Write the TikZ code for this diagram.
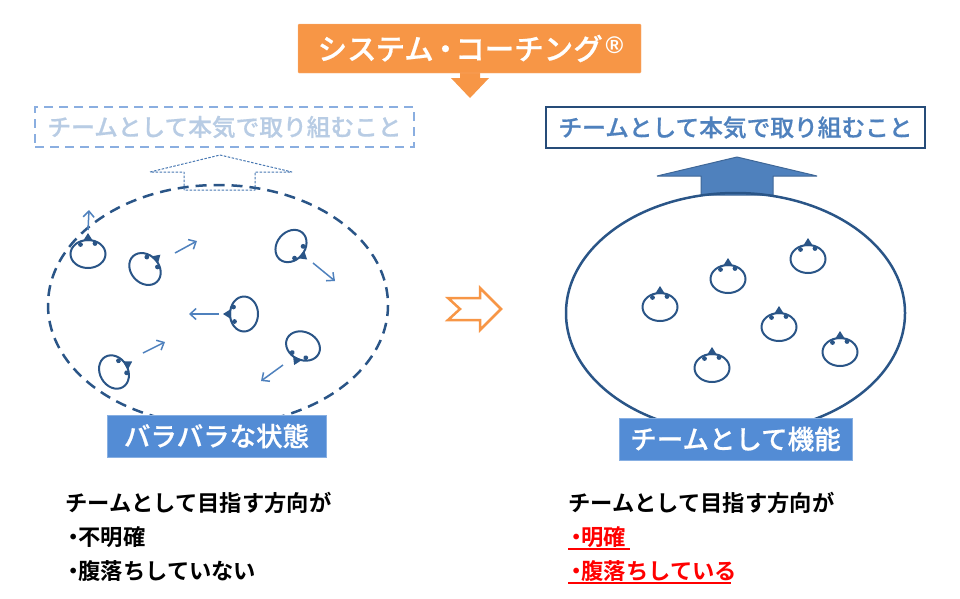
\documentclass[tikz,border=0pt]{standalone}
\usepackage{fontspec}
\setmainfont{Noto Sans CJK JP Bold}
\newfontfamily\heavyfont[FakeBold=0.6]{Noto Sans CJK JP Medium}
\newfontfamily\markfont{Liberation Sans}
\usetikzlibrary{arrows.meta}
\definecolor{navy}{HTML}{2A5587}
\definecolor{midblue}{HTML}{4F81BD}
\definecolor{labelblue}{HTML}{538CD5}
\definecolor{orange}{HTML}{F79646}
\definecolor{paleline}{HTML}{8AAEE0}
\definecolor{paletext}{HTML}{B8CCE4}
\newcommand{\dotmark}{\kern-3pt ・\kern-6pt }
\tikzset{
  chick/.pic={
    \draw[navy,line width=2] (0,0) ellipse (17.5 and 14);
    \fill[navy] (-5,-13) -- (0,-21) -- (5,-13) -- cycle;
    \fill[navy] (-7.5,-9.5) circle (2.4);
    \fill[navy] (7,-10.5) circle (2.4);
  },
  moveline/.style={midblue,line width=1.5,-{Straight Barb[length=6,width=11]}},
  labelbox/.style={fill=labelblue,draw=labelblue!70!white,text=white,font=\heavyfont\fontsize{26.5}{27}\selectfont,inner sep=0pt},
  linetext/.style={anchor=base west,inner sep=0pt,font=\fontsize{22.3}{23}\selectfont},
}
\begin{document}
\begin{tikzpicture}[x=1pt,y=-1pt]
\useasboundingbox (0,0) rectangle (960,598);
% title
\fill[orange] (460,70) -- (480,70) -- (480,78) -- (489,78) -- (470,98) -- (451,78) -- (460,78) -- cycle;
\node (title) [fill=orange,draw=orange!70!white,rounded corners=1,minimum width=343,minimum height=49,text=white,font=\heavyfont\fontsize{29.5}{30}\selectfont,inner sep=0pt] at (469.5,48.5) {\kern2pt シス\kern-1pt テム\kern-3pt ・\kern-5pt コーチング\kern3pt\raisebox{6pt}{\markfont\bfseries\fontsize{24}{24}\selectfont ®}};
% left side
\node (leftgoal) [draw=paleline,dash pattern=on 9pt off 6pt,line width=2.5,minimum width=379,minimum height=40,text=paletext,font=\heavyfont\fontsize{23.7}{24}\selectfont,inner sep=0pt] at (224.5,127) {チームとして本気で取り組むこと};
\draw[navy,line width=2.5,dash pattern=on 11pt off 7pt] (218,305) ellipse (170 and 120);
\draw[midblue!80!navy,line width=1,line join=bevel,dash pattern=on 2.5pt off 1.5pt] (184,190) -- (184,172) -- (150,172) -- (220,155) -- (292,172) -- (255,172) -- (255,190) -- cycle;
\pic at (88,254) {chick};
\pic[rotate=-47] at (145,269) {chick};
\pic[rotate=-130] at (291,246) {chick};
\pic[rotate=90] at (244,314) {chick};
\pic[rotate=155] at (303,346) {chick};
\pic[rotate=-60] at (114,372) {chick};
\coordinate (moveAs) at (88,230);
\coordinate (moveAe) at (89,210);
\coordinate (moveBs) at (175,253);
\coordinate (moveBe) at (197,241);
\coordinate (moveCs) at (313,263);
\coordinate (moveCe) at (335,281);
\coordinate (moveDs) at (219,314);
\coordinate (moveDe) at (189,314);
\coordinate (moveEs) at (283,365);
\coordinate (moveEe) at (261,381);
\coordinate (moveFs) at (143,353);
\coordinate (moveFe) at (165,342);
\draw[moveline] (moveAs) -- (moveAe);
\draw[moveline] (moveBs) -- (moveBe);
\draw[moveline] (moveCs) -- (moveCe);
\draw[moveline] (moveDs) -- (moveDe);
\draw[moveline] (moveEs) -- (moveEe);
\draw[moveline] (moveFs) -- (moveFe);
\node (leftstate) [labelbox,minimum width=219,minimum height=42] at (216.5,436) {バラバラな状態};
% middle arrow
\draw[orange,line width=2.5] (448,298) -- (480,298) -- (480,288) -- (501,309) -- (480,330) -- (480,320) -- (448,320) -- (460,309) -- cycle;
% right side
\node (rightgoal) [draw=navy!90!black,line width=2.5,minimum width=379,minimum height=41,text=midblue,font=\heavyfont\fontsize{23.7}{24}\selectfont,inner sep=0pt] at (735.5,127.5) {チームとして本気で取り組むこと};
\draw[fill=midblue,draw=midblue!80!black,line width=1,line join=bevel] (701,195) -- (701,176) -- (657,176) -- (737,157) -- (817,176) -- (773,176) -- (773,195) -- cycle;
\draw[navy,line width=2.5] (735.5,313) ellipse (169.5 and 120);
\pic at (660,307) {chick};
\pic at (728,279) {chick};
\pic at (808,259) {chick};
\pic at (779,327) {chick};
\pic at (840,352) {chick};
\pic at (712,368) {chick};
\node (rightstate) [labelbox,minimum width=233,minimum height=42] at (735.5,439) {チームとして機能};
% bottom texts
\node (leftline1) [linetext] at (65,511) {チームとして目指す方向が};
\node (leftline2) [linetext] at (65,545) {\dotmark 不明確};
\node (leftline3) [linetext] at (65,579) {\dotmark 腹落ちしていない};
\node (rightline1) [linetext] at (568,511) {チームとして目指す方向が};
\node (rightline2) [linetext,text=red] at (568,545) {\dotmark 明確};
\node (rightline3) [linetext,text=red] at (568,579) {\dotmark 腹落ちしている};
\draw[red,line width=1.4] (rightline2.base west)++(0,4) -- ++(62,0);
\draw[red,line width=1.4] (rightline3.base west)++(0,4) -- ++(163,0);
\end{tikzpicture}
\end{document}
